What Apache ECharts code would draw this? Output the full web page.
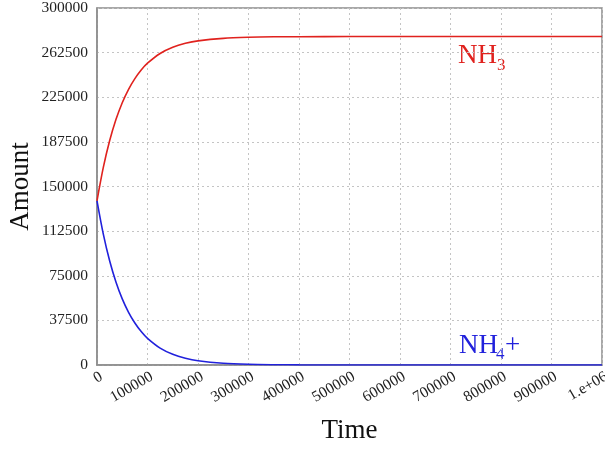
<!DOCTYPE html>
<html>
<head>
<meta charset="utf-8">
<script src="https://cdn.jsdelivr.net/npm/echarts@6/dist/echarts.min.js"></script>
<style>
html,body{margin:0;padding:0;background:#fff;}
#chart{width:605px;height:449px;}
</style>
</head>
<body>
<div id="chart"></div>
<script>
// Time points (x values)
var times = [0, 12500, 25000, 37500, 50000, 62500, 75000, 87500, 100000, 125000, 150000, 175000, 200000, 250000, 300000, 350000, 400000, 500000, 600000, 700000, 800000, 900000, 1000000];
// NH3 amounts
var nh3 = [138000, 166000, 188400, 206200, 220400, 231700, 240700, 247900, 253600, 261800, 267000, 270300, 272400, 274500, 275400, 275800, 275900, 276000, 276000, 276000, 276000, 276000, 276000];
// NH4+ amounts
var nh4 = [138000, 110000, 87600, 69800, 55600, 44300, 35300, 28100, 22400, 14200, 9000, 5700, 3600, 1500, 600, 250, 100, 0, 0, 0, 0, 0, 0];
// Tick labels
var xTickLabels = ['0', '100000', '200000', '300000', '400000', '500000', '600000', '700000', '800000', '900000', '1.e+06'];
var yTickLabels = ['0', '37500', '75000', '112500', '150000', '187500', '225000', '262500', '300000'];

function pairs(xs, ys) { return xs.map(function (x, i) { return [x, ys[i]]; }); }

var serif = '"Liberation Serif", "DejaVu Serif", serif';
var axisGray = '#8c8c8c';
var gridGray = '#c4c4c4';
var red = '#e0221e';
var blue = '#2121dc';

var chart = echarts.init(document.getElementById('chart'), null, {renderer: 'canvas'});
chart.setOption({
  animation: false,
  backgroundColor: '#fff',
  grid: {left: 97, right: 3, top: 8, bottom: 84, containLabel: false, outerBoundsMode: 'none',
         show: true, borderColor: axisGray, borderWidth: 1.5, backgroundColor: 'transparent'},
  xAxis: {
    type: 'value', min: 0, max: 1000000, interval: 100000,
    name: 'Time', nameLocation: 'middle', nameGap: 52, nameMoveOverlap: false,
    nameTextStyle: {fontFamily: serif, fontSize: 27, color: '#111'},
    axisLine: {show: true, lineStyle: {color: axisGray, width: 1.5}},
    axisTick: {show: false},
    axisLabel: {
      rotate: 30, margin: 13, padding: [0, -5, 0, 0], fontFamily: serif, fontSize: 15.5, color: '#222',
      formatter: function (v) { return xTickLabels[Math.round(v / 100000)]; }
    },
    splitLine: {show: true, lineStyle: {color: gridGray, type: [2, 3], width: 1}}
  },
  yAxis: {
    type: 'value', min: 0, max: 300000, interval: 37500,
    name: 'Amount', nameLocation: 'middle', nameGap: 63, nameMoveOverlap: false,
    nameTextStyle: {fontFamily: serif, fontSize: 27, color: '#111'},
    axisLine: {show: true, lineStyle: {color: axisGray, width: 1.5}},
    axisTick: {show: false},
    axisLabel: {
      margin: 9, fontFamily: serif, fontSize: 15.5, color: '#222',
      formatter: function (v) { return yTickLabels[Math.round(v / 37500)]; }
    },
    splitLine: {show: true, lineStyle: {color: gridGray, type: [2, 3], width: 1}}
  },
  series: [
    {name: 'NH3', type: 'line', data: pairs(times, nh3), showSymbol: false, smooth: 0.3,
     lineStyle: {color: red, width: 1.6}, itemStyle: {color: red}, z: 3},
    {name: 'NH4+', type: 'line', data: pairs(times, nh4), showSymbol: false, smooth: 0.3,
     lineStyle: {color: blue, width: 1.6}, itemStyle: {color: blue}, z: 4}
  ],
  graphic: [
    {type: 'text', left: 458, top: 42, style: {text: 'NH', font: '27px ' + serif, fill: red}},
    {type: 'text', left: 497, top: 57, style: {text: '3', font: '17px ' + serif, fill: red}},
    {type: 'text', left: 459, top: 332, style: {text: 'NH', font: '27px ' + serif, fill: blue}},
    {type: 'text', left: 496, top: 346, style: {text: '4', font: '17px ' + serif, fill: blue}},
    {type: 'text', left: 505, top: 332, style: {text: '+', font: '27px ' + serif, fill: blue}}
  ]
});
</script>
</body>
</html>
